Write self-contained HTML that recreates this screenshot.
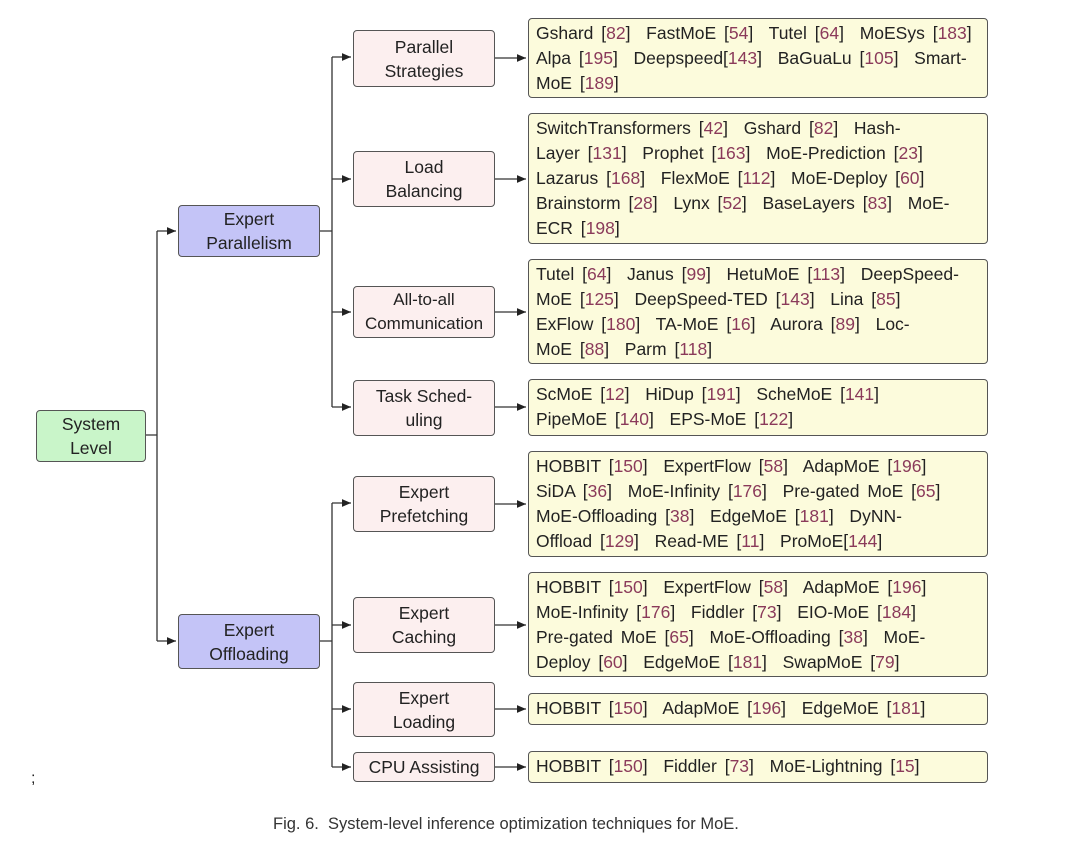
<!DOCTYPE html>
<html><head><meta charset="utf-8"><style>
body{margin:0;width:1080px;height:841px;background:#fff;position:relative;overflow:hidden;font-family:"Liberation Sans",sans-serif;color:#222}
.b{position:absolute;box-sizing:border-box;border:1.3px solid #555;border-radius:4px;display:flex;align-items:center;justify-content:center;text-align:center;font-size:17.5px;line-height:24px}
.g{background:#c9f5c9}.u{background:#c4c4f7}.p{background:#fcefef}
.l{position:absolute;box-sizing:border-box;border:1.3px solid #555;border-radius:4px;background:#fcfbdc;font-size:17.5px;line-height:25px;padding:2px 0 0 7px;white-space:nowrap;word-spacing:3px}
.l i{font-style:normal;color:#8a3a5a}
svg{position:absolute;left:0;top:0}
</style></head><body>
<svg width="1080" height="841">
<defs><marker id="a" markerWidth="8" markerHeight="8" refX="7" refY="3" orient="auto"><path d="M0,0L7,3L0,6z" fill="#222"/></marker></defs>
<g stroke="#333" stroke-width="1.3" fill="none">
<path d="M146,435H157M157,231V641"/>
<path d="M157,231H176" marker-end="url(#a)"/><path d="M157,641H176" marker-end="url(#a)"/>
<path d="M320,231H332M332,57V407"/>
<path d="M332,57H351" marker-end="url(#a)"/><path d="M332,179H351" marker-end="url(#a)"/><path d="M332,312H351" marker-end="url(#a)"/><path d="M332,407H351" marker-end="url(#a)"/>
<path d="M320,641H332M332,503V767"/>
<path d="M332,503H351" marker-end="url(#a)"/><path d="M332,625H351" marker-end="url(#a)"/><path d="M332,709H351" marker-end="url(#a)"/><path d="M332,767H351" marker-end="url(#a)"/>
<path d="M495,58H526" marker-end="url(#a)"/><path d="M495,179H526" marker-end="url(#a)"/><path d="M495,312H526" marker-end="url(#a)"/><path d="M495,407H526" marker-end="url(#a)"/>
<path d="M495,504H526" marker-end="url(#a)"/><path d="M495,625H526" marker-end="url(#a)"/><path d="M495,709H526" marker-end="url(#a)"/><path d="M495,767H526" marker-end="url(#a)"/>
</g></svg>
<div class="b g" style="left:36px;top:410px;width:110px;height:52px">System<br>Level</div>
<div class="b u" style="left:178px;top:205px;width:142px;height:52px">Expert<br>Parallelism</div>
<div class="b u" style="left:178px;top:614px;width:142px;height:55px">Expert<br>Offloading</div>
<div class="b p" style="left:353px;top:30px;width:142px;height:57px">Parallel<br>Strategies</div>
<div class="b p" style="left:353px;top:151px;width:142px;height:56px">Load<br>Balancing</div>
<div class="b p" style="left:353px;top:286px;width:142px;height:52px;font-size:17px">All-to-all<br>Communication</div>
<div class="b p" style="left:353px;top:380px;width:142px;height:56px">Task Sched-<br>uling</div>
<div class="b p" style="left:353px;top:476px;width:142px;height:56px">Expert<br>Prefetching</div>
<div class="b p" style="left:353px;top:597px;width:142px;height:56px">Expert<br>Caching</div>
<div class="b p" style="left:353px;top:682px;width:142px;height:55px">Expert<br>Loading</div>
<div class="b p" style="left:353px;top:752px;width:142px;height:30px">CPU Assisting</div>
<div class="l" style="left:528px;top:18px;width:460px;height:80px">Gshard [<i>82</i>]&nbsp; FastMoE [<i>54</i>]&nbsp; Tutel [<i>64</i>]&nbsp; MoESys [<i>183</i>]<br>Alpa [<i>195</i>]&nbsp; Deepspeed[<i>143</i>]&nbsp; BaGuaLu [<i>105</i>]&nbsp; Smart-<br>MoE [<i>189</i>]</div>
<div class="l" style="left:528px;top:113px;width:460px;height:131px">SwitchTransformers [<i>42</i>]&nbsp; Gshard [<i>82</i>]&nbsp; Hash-<br>Layer [<i>131</i>]&nbsp; Prophet [<i>163</i>]&nbsp; MoE-Prediction [<i>23</i>]<br>Lazarus [<i>168</i>]&nbsp; FlexMoE [<i>112</i>]&nbsp; MoE-Deploy [<i>60</i>]<br>Brainstorm [<i>28</i>]&nbsp; Lynx [<i>52</i>]&nbsp; BaseLayers [<i>83</i>]&nbsp; MoE-<br>ECR [<i>198</i>]</div>
<div class="l" style="left:528px;top:259px;width:460px;height:105px">Tutel [<i>64</i>]&nbsp; Janus [<i>99</i>]&nbsp; HetuMoE [<i>113</i>]&nbsp; DeepSpeed-<br>MoE [<i>125</i>]&nbsp; DeepSpeed-TED [<i>143</i>]&nbsp; Lina [<i>85</i>]<br>ExFlow [<i>180</i>]&nbsp; TA-MoE [<i>16</i>]&nbsp; Aurora [<i>89</i>]&nbsp; Loc-<br>MoE [<i>88</i>]&nbsp; Parm [<i>118</i>]</div>
<div class="l" style="left:528px;top:379px;width:460px;height:57px">ScMoE [<i>12</i>]&nbsp; HiDup [<i>191</i>]&nbsp; ScheMoE [<i>141</i>]<br>PipeMoE [<i>140</i>]&nbsp; EPS-MoE [<i>122</i>]</div>
<div class="l" style="left:528px;top:451px;width:460px;height:106px">HOBBIT [<i>150</i>]&nbsp; ExpertFlow [<i>58</i>]&nbsp; AdapMoE [<i>196</i>]<br>SiDA [<i>36</i>]&nbsp; MoE-Infinity [<i>176</i>]&nbsp; Pre-gated MoE [<i>65</i>]<br>MoE-Offloading [<i>38</i>]&nbsp; EdgeMoE [<i>181</i>]&nbsp; DyNN-<br>Offload [<i>129</i>]&nbsp; Read-ME [<i>11</i>]&nbsp; ProMoE[<i>144</i>]</div>
<div class="l" style="left:528px;top:572px;width:460px;height:105px">HOBBIT [<i>150</i>]&nbsp; ExpertFlow [<i>58</i>]&nbsp; AdapMoE [<i>196</i>]<br>MoE-Infinity [<i>176</i>]&nbsp; Fiddler [<i>73</i>]&nbsp; EIO-MoE [<i>184</i>]<br>Pre-gated MoE [<i>65</i>]&nbsp; MoE-Offloading [<i>38</i>]&nbsp; MoE-<br>Deploy [<i>60</i>]&nbsp; EdgeMoE [<i>181</i>]&nbsp; SwapMoE [<i>79</i>]</div>
<div class="l" style="left:528px;top:693px;width:460px;height:32px">HOBBIT [<i>150</i>]&nbsp; AdapMoE [<i>196</i>]&nbsp; EdgeMoE [<i>181</i>]</div>
<div class="l" style="left:528px;top:751px;width:460px;height:32px">HOBBIT [<i>150</i>]&nbsp; Fiddler [<i>73</i>]&nbsp; MoE-Lightning [<i>15</i>]</div>
<div style="position:absolute;left:31px;top:770px;font-size:16px">;</div>
<div style="position:absolute;left:273px;top:815px;font-size:16.5px;color:#333">Fig. 6.&nbsp; System-level inference optimization techniques for MoE.</div>
</body></html>
